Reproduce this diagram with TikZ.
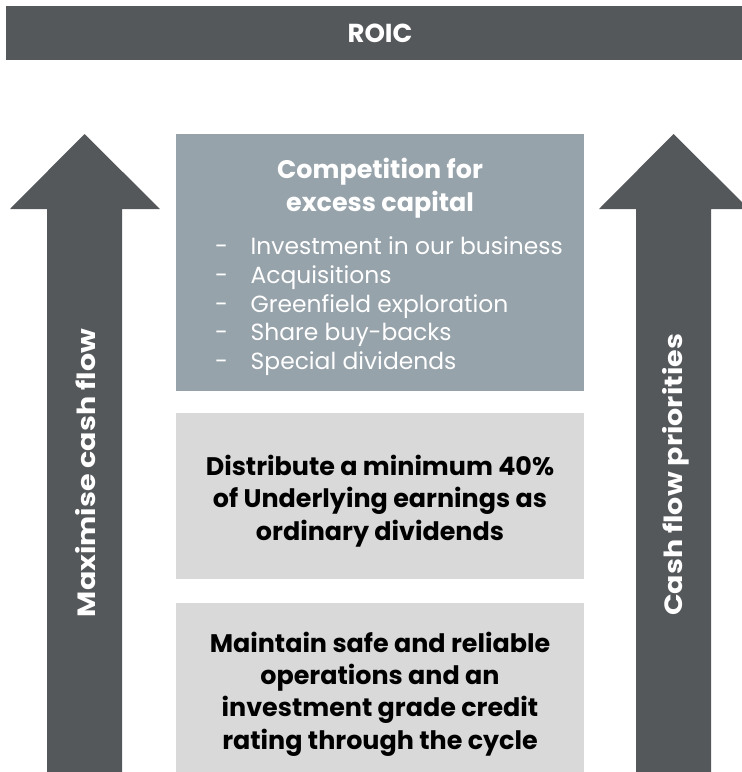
\documentclass[tikz,border=0pt]{standalone}
\usepackage{fontspec}
\setmainfont{Poppins}
\newfontfamily\arrowfont[FakeStretch=1.14]{Poppins}
\usetikzlibrary{calc}
\definecolor{roicgrey}{HTML}{55585B}
\definecolor{excessblue}{HTML}{97A3AB}
\definecolor{floorgrey}{HTML}{D9D9D9}
\begin{document}
\begin{tikzpicture}[x=1pt,y=-1pt,
    tierbox/.style={fill=#1,minimum width=408pt,inner sep=0pt},
    tiertext/.style={align=center,inner sep=0pt,font=\fontsize{25.4}{32.4}\selectfont\bfseries},
    arrowlabel/.style={rotate=90,text=white,font=\arrowfont\fontsize{25}{30}\selectfont\bfseries}]
        \newcommand{\shaftleft}{47}
        \newcommand{\shaftright}{636}
        \newcommand{\shaftwidth}{75}
        \newcommand{\headbase}{209}
        \newcommand{\headtip}{134}
        \useasboundingbox (0,0) rectangle (742,772);
        % ROIC bar
        \fill[roicgrey] (6,6) rectangle (742,60);
        \node[text=white,font=\fontsize{26}{30}\selectfont\bfseries] (roic) at (380,33.5) {ROIC};
        % arrows
        \fill[roicgrey] (\shaftleft,772) -- (\shaftleft,\headbase) -- (\shaftleft-37,\headbase)
          -- (\shaftleft+0.5*\shaftwidth,\headtip) -- (\shaftleft+\shaftwidth+38,\headbase)
          -- (\shaftleft+\shaftwidth,\headbase) -- (\shaftleft+\shaftwidth,772) -- cycle;
        \fill[roicgrey] (\shaftright,772) -- (\shaftright,\headbase) -- (\shaftright-37,\headbase)
          -- (\shaftright+0.5*\shaftwidth,\headtip) -- (\shaftright+\shaftwidth+38,\headbase)
          -- (\shaftright+\shaftwidth,\headbase) -- (\shaftright+\shaftwidth,772) -- cycle;
        \node[arrowlabel] (maxflow) at (86,473) {Maximise cash flow};
        \node[arrowlabel] (priorities) at (676,475) {Cash flow priorities};
        % tiers
        \node[tierbox=excessblue,minimum height=257pt] (excess) at (380,262.5) {};
        \node[tiertext,text=white] (excesstitle) at (380,188) {Competition for\\excess capital};
        \node[text=white,anchor=north west,inner sep=0pt,align=left,
          font=\fontsize{23.4}{28.8}\selectfont] (uses) at (215,236.5)
          {\makebox[35.5pt][l]{-}Investment in our business\\
           \makebox[35.5pt][l]{-}Acquisitions\\
           \makebox[35.5pt][l]{-}Greenfield exploration\\
           \makebox[35.5pt][l]{-}Share buy-backs\\
           \makebox[35.5pt][l]{-}Special dividends};
        \node[tierbox=floorgrey,minimum height=166pt] (dividends) at (380,496) {};
        \node[tiertext] (dividendstext) at (380,501)
          {Distribute a minimum 40\%\\of Underlying earnings as\\ordinary dividends};
        \node[tierbox=floorgrey,minimum height=169pt] (safety) at (380,687.5) {};
        \node[tiertext] (safetytext) at (380,694)
          {Maintain safe and reliable\\operations and an\\investment grade credit\\rating through the cycle};
\end{tikzpicture}
\end{document}
